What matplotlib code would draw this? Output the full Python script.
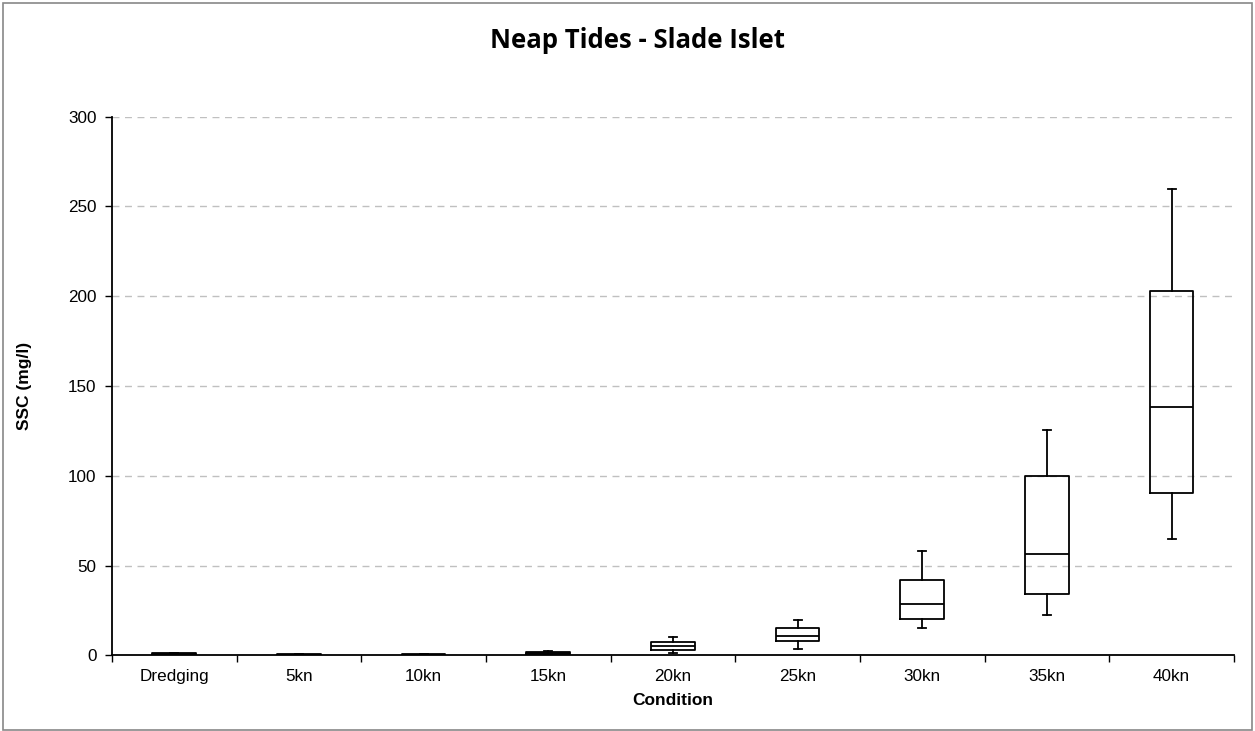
import matplotlib
matplotlib.use("Agg")
import matplotlib.pyplot as plt
from matplotlib.patches import Rectangle

# box statistics (mg/l)
conditions = ["Dredging", "5kn", "10kn", "15kn", "20kn", "25kn", "30kn", "35kn", "40kn"]
whislo = [0.3, 0.1, 0.1, 0.4, 1.4, 3.6, 15.3, 22.4, 65.0]
q1 = [0.5, 0.2, 0.2, 0.7, 3.1, 8.1, 20.5, 34.2, 90.2]
med = [0.9, 0.4, 0.4, 1.2, 5.5, 11.0, 28.8, 56.6, 138.1]
q3 = [1.4, 0.8, 0.8, 2.0, 7.7, 15.5, 42.0, 100.0, 203.0]
whishi = [1.6, 0.9, 0.9, 2.5, 10.3, 19.6, 58.2, 125.7, 259.6]

plt.rcParams['font.family'] = ['Liberation Sans', 'DejaVu Sans']

fig = plt.figure(figsize=(12.55, 7.31), dpi=100)
ax = fig.add_axes([0.0892, 0.1033, 0.8940, 0.7373])

stats = []
for i, name in enumerate(conditions):
    stats.append({"label": name, "whislo": whislo[i], "q1": q1[i], "med": med[i],
                  "q3": q3[i], "whishi": whishi[i], "fliers": []})

line = dict(color="black", linewidth=1.3)
ax.bxp(stats, positions=range(len(conditions)), widths=0.35, capwidths=0.065,
       showfliers=False, boxprops=line, whiskerprops=line, capprops=line,
       medianprops=line, patch_artist=False)

ax.set_xlim(-0.5, len(conditions) - 0.5)
ax.set_ylim(0, 300)
ax.set_yticks(range(0, 301, 50))
ax.yaxis.grid(True, linestyle=(0, (5, 4)), color="#c0c0c0", linewidth=1)
ax.set_axisbelow(True)

ax.set_xticks(range(len(conditions)))
ax.set_xticklabels(conditions)
ax.set_xticks([i - 0.5 for i in range(len(conditions) + 1)], minor=True)
ax.tick_params(axis="x", which="major", length=0, labelsize=12.3, pad=10)
ax.tick_params(axis="x", which="minor", length=5, width=1, color="black")
ax.tick_params(axis="y", length=5, width=1, labelsize=12.3, pad=6)

for s in ["top", "right"]:
    ax.spines[s].set_visible(False)
for s in ["left", "bottom"]:
    ax.spines[s].set_linewidth(1.3)

ax.set_xlabel("Condition", fontweight="bold", fontsize=12.5, labelpad=6)
ax.set_ylabel("SSC (mg/l)", fontweight="bold", fontsize=12.5, labelpad=26)
fig.text(0.508, 0.944, "Neap Tides - Slade Islet", ha="center", va="center",
         fontsize=18.5, fontweight="bold", family=["Open Sans", "DejaVu Sans"])

fig.patches.append(Rectangle((0.002, 0.002), 0.996, 0.994, transform=fig.transFigure,
                             fill=False, edgecolor="#888888", linewidth=1.2))

fig.savefig("out.png", dpi=100)
